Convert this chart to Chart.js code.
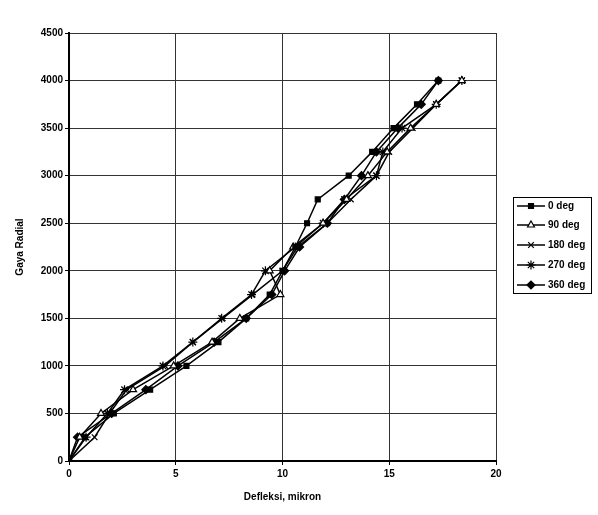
<!DOCTYPE html>
<html>
<head>
<meta charset="utf-8">
<script src="https://cdn.jsdelivr.net/npm/chart.js@4"></script>
<style>
  html, body { margin: 0; padding: 0; background: #fff; }
  #wrap { width: 598px; height: 515px; }
</style>
</head>
<body>
<div id="wrap"><canvas id="grafik" width="598" height="515"></canvas></div>
<script>
// Beban radial (sumbu y) dan defleksi tiap sudut (sumbu x)
const gaya = [0, 250, 500, 750, 1000, 1250, 1500, 1750, 2000, 2250, 2500, 2750, 3000, 3250, 3500, 3750, 4000];
const defleksi0   = [0, 0.75, 2.1, 3.8, 5.5, 7.0, 8.3, 9.4, 10.0, 10.6, 11.15, 11.65, 13.1, 14.2, 15.2, 16.3, 17.3];
const defleksi90  = [0, 0.5, 1.5, 3.0, 4.9, 6.7, 8.0, 9.9, 9.4, 10.5, 11.9, 13.0, 14.0, 14.9, 16.0, 17.2, 18.4];
const defleksi180 = [0, 1.2, 1.9, 2.7, 4.5, 5.8, 7.2, 8.6, 10.0, 10.7, 12.1, 13.2, 14.4, 15.0, 16.1, 17.2, 18.4];
const defleksi270 = [0, 0.8, 1.8, 2.6, 4.4, 5.8, 7.15, 8.55, 9.2, 10.6, 11.9, 12.9, 14.4, 14.7, 15.6, 17.2, 18.4];
const defleksi360 = [0, 0.4, 2.0, 3.6, 5.1, 6.8, 8.3, 9.5, 10.1, 10.8, 12.1, 12.9, 13.7, 14.4, 15.4, 16.5, 17.3];
const labelSeri = ['0 deg', '90 deg', '180 deg', '270 deg', '360 deg'];

const FONT = "'Liberation Sans', Arial, sans-serif";

const gayaSeri = (xs) => xs.map((x, i) => ({ x: x, y: gaya[i] }));

const gaya_titik = [
    { style: 'rect', bg: '#000', r: 3.5 },
    { style: 'triangle', bg: '#fff', r: 4 },
    { style: 'crossRot', bg: '#000', r: 4 },
    { style: 'star', bg: '#000', r: 4.5 },
    { style: 'rectRot', bg: '#000', r: 4 }
];

const dataSeri = [defleksi0, defleksi90, defleksi180, defleksi270, defleksi360];

// Legenda kotak di kanan
const legendaKotak = {
    id: 'legendaKotak',
    afterDraw(chart) {
        const ctx = chart.ctx;
        ctx.save();
        ctx.strokeStyle = '#000';
        ctx.lineWidth = 1;
        ctx.strokeRect(513.5, 197.5, 78, 96);
        const ys = [206, 225, 245, 265, 285];
        labelSeri.forEach((lbl, i) => {
            const y = ys[i];
            const p = gaya_titik[i];
            ctx.strokeStyle = '#000';
            ctx.lineWidth = 1.5;
            ctx.beginPath();
            ctx.moveTo(517, y);
            ctx.lineTo(545, y);
            ctx.stroke();
            ctx.fillStyle = p.bg;
            ctx.lineWidth = 1.2;
            Chart.helpers.drawPoint(ctx, {
                pointStyle: p.style, radius: p.r, rotation: 0, borderWidth: 1.2
            }, 531, y);
            ctx.fillStyle = '#000';
            ctx.font = 'bold 10px ' + FONT;
            ctx.textBaseline = 'middle';
            ctx.textAlign = 'left';
            ctx.fillText(lbl, 548, y);
        });
        ctx.restore();
    }
};

new Chart(document.getElementById('grafik'), {
    type: 'scatter',
    data: {
        datasets: dataSeri.map((xs, i) => ({
            label: labelSeri[i],
            data: gayaSeri(xs),
            showLine: true,
            borderColor: '#000',
            borderWidth: 1.5,
            pointStyle: gaya_titik[i].style,
            pointRadius: gaya_titik[i].r,
            pointBackgroundColor: gaya_titik[i].bg,
            pointBorderColor: '#000',
            pointBorderWidth: 1.2,
            tension: 0
        }))
    },
    options: {
        responsive: false,
        animation: false,
        devicePixelRatio: 1,
        layout: { padding: { left: 0, top: 33, right: 102, bottom: 0 } },
        plugins: {
            legend: { display: false },
            tooltip: { enabled: false }
        },
        scales: {
            x: {
                type: 'linear',
                min: 0, max: 20,
                ticks: { stepSize: 5, color: '#000', padding: 3, font: { family: FONT, size: 10, weight: 'bold' },
                    callback: (v) => String(v) },
                grid: { color: '#333', lineWidth: 1, tickLength: 4, tickColor: '#000' },
                border: { color: '#000', width: 2 },
                title: { display: true, text: 'Defleksi, mikron', color: '#000', padding: { top: 12, bottom: 12 }, font: { family: FONT, size: 10, weight: 'bold' } },
                afterFit(scale) { scale.height = 54; }
            },
            y: {
                min: 0, max: 4500,
                ticks: { stepSize: 500, color: '#000', padding: 2, font: { family: FONT, size: 10, weight: 'bold' },
                    callback: (v) => String(v) },
                grid: { color: '#333', lineWidth: 1, tickLength: 4, tickColor: '#000' },
                border: { color: '#000', width: 2 },
                title: { display: true, text: 'Gaya Radial', color: '#000', padding: { top: 14, bottom: 14 }, font: { family: FONT, size: 10, weight: 'bold' } },
                afterFit(scale) { scale.width = 69; }
            }
        }
    },
    plugins: [legendaKotak]
});
</script>
</body>
</html>
